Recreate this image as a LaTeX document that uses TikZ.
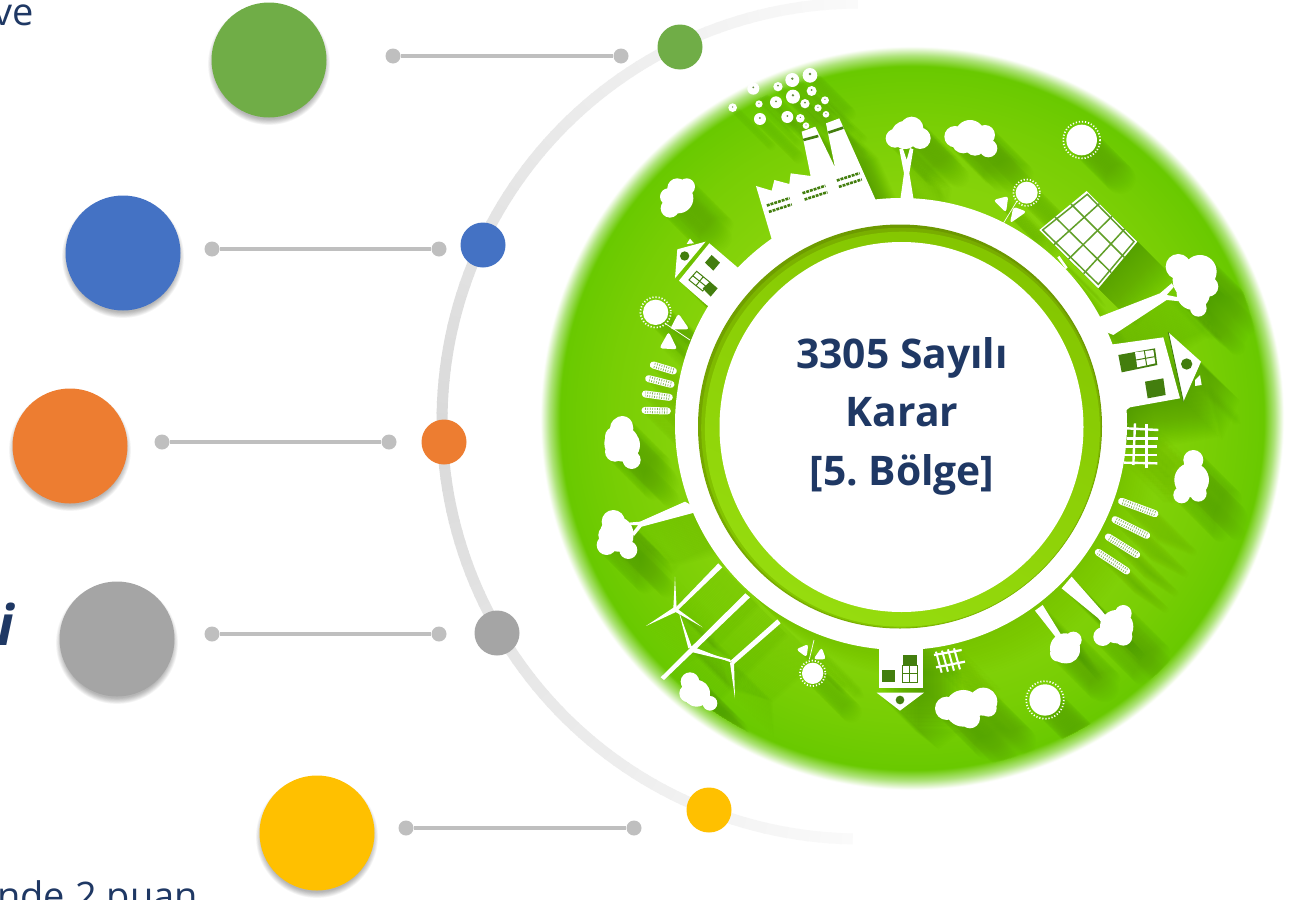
\documentclass[tikz,border=0pt]{standalone}
\usepackage{fontspec}
\setmainfont{Open Sans}
\definecolor{navy}{HTML}{1F3864}
\definecolor{cgreen}{HTML}{70AD47}
\definecolor{cblue}{HTML}{4472C4}
\definecolor{corange}{HTML}{ED7D31}
\definecolor{cgrey}{HTML}{A5A5A5}
\definecolor{cyellow}{HTML}{FFC000}
\definecolor{linegrey}{HTML}{BFBFBF}
\definecolor{arcg}{HTML}{D9D9D9}
\definecolor{shg}{HTML}{2A7000}
\definecolor{dk}{HTML}{4F9410}
\definecolor{gA}{HTML}{8CD60A}
\definecolor{gB}{HTML}{86D30A}
\definecolor{gC}{HTML}{78CE04}
\definecolor{gD}{HTML}{69C900}
\definecolor{gE}{HTML}{AEE37A}
\definecolor{ringA}{HTML}{6C9800}
\definecolor{ringB}{HTML}{78AC00}
\definecolor{ringC}{HTML}{84C600}
\definecolor{ringD}{HTML}{96DC0E}
\pgfdeclareradialshading{greendisc}{\pgfpoint{0bp}{0bp}}{color(0bp)=(gA); color(15.15bp)=(gB); color(19.75bp)=(gC); color(23.15bp)=(gD); color(23.85bp)=(gE); color(24.45bp)=(white); color(50bp)=(white)}
\tikzset{
  bigdot/.style={circle,draw=none,minimum size=115pt,inner sep=0pt},
  smalldot/.style={circle,draw=none,minimum size=45pt,inner sep=0pt},
  enddot/.style={circle,draw=none,fill=linegrey,minimum size=15pt,inner sep=0pt},
  linkline/.style={draw=linegrey,line width=3.5pt},
  titletext/.style={text=navy,font=\fontsize{40.8}{58.5}\selectfont\bfseries,align=center,inner sep=0pt},
  edgetext/.style={text=navy,font=\fontsize{38}{40}\selectfont,inner sep=0pt},
}
% icon passes
\def\passshadow{%
  \def\Sh##1{\foreach\dd in {4,8,...,116}{\fill[shg,opacity=.014,shift={(\dd,\dd)}] ##1;}}%
  \def\Sl##1##2{\foreach\dd in {4,8,...,116}{\draw[shg,opacity=.01,line width=##1,shift={(\dd,\dd)}] ##2;}}%
}
\def\passwhite{%
  \def\Sh##1{\fill[white] ##1;}%
  \def\Sl##1##2{\draw[white,line width=##1] ##2;}%
}
\def\Cl#1{\Sh{\foreach \xx/\yy/\rr in {#1}{(\xx,\yy) circle[radius=\rr]}}}
\newcommand\zw[3]{\begin{scope}[shift={(#1,#2)},x=.3333pt,y=-.3333pt]#3\end{scope}}
\newif\ifdetail
\def\Sun#1#2#3{\Cl{#1/#2/#3}\ifdetail\draw[white,line width=1.7pt,dash pattern=on 1.2pt off 1.9pt] (#1,#2) circle[radius=#3*1.2];\fi}
\def\Ear#1#2#3#4{\Sl{7pt,line cap=round}{(#1,#2)--(#3,#4)}\ifdetail\draw[dk!70!white,line width=5.5pt,dash pattern=on .7pt off 1.7pt] (#1,#2)--(#3,#4);\draw[white,line width=1pt] (#1,#2)--(#3,#4);\fi}
\def\Win#1#2#3{\begin{scope}[shift={(#1,#2)},rotate=#3]\draw[dk!85!black,line width=2.6pt,dash pattern=on 2.9pt off 1pt] (-36,-10)--(36,-10);\draw[dk!85!black,line width=2.6pt,dash pattern=on 2.9pt off 1pt] (-36,10)--(36,10);\end{scope}}
\def\Icons{%
\zw{540}{40}{%
  \Cl{810/106/22,757/120/21,640/146/18,714/140/14,759/170/21,815/153/15,855/181/12,708/187/18,795/191/14,657/192/11,578/203/13,834/204/11,858/223/10,742/231/18,781/235/13,660/237/18,798/257/10}%
  \Sh{(695,597)--(648,438)--(695,452)--(703,420)--(748,432)--(752,400)--(812,408)--(785,275)--(826,260)--(885,382)--(858,250)--(898,235)--(1008,482)--(1050,560)--(740,640)--cycle}%
  \Cl{390/505/28,385/470/25,412/445/30,440/440/25,420/482/35,415/475/45}%
  \Sh{(405,715)--(412,628)--(497,605)--cycle}%
  \Sh{(508,610)--(590,680)--(640,720)--(540,820)--(500,795)--(417,722)--cycle}%
  \Sh{(440,612)--(450,596)--(462,610)--cycle}%
}%
\zw{900}{60}{%
  \Cl{35/205/35,60/235/32,-15/235/28,15/225/42}%
  \Sh{(0,425)--(12,340)--(-2,268)--(8,264)--(20,300)--(30,264)--(40,268)--(28,340)--(42,425)--cycle}%
  \Cl{165/230/32,210/225/45,255/225/30,265/265/27,225/255/32,190/245/35}%
  \Sun{545}{240}{46}%
  \Sun{380}{398}{33}%
  \Sh{[rounded corners=3pt](280,420)--(325,408)--(318,458)--cycle}%
  \Sh{[rounded corners=3pt](330,490)--(380,455)--(340,440)--cycle}%
  \Sl{.7pt}{(350,425)--(310,490)}%
  \Sh{(560,393)--(712,545)--(595,685)--(418,510)--cycle}%
  \Sl{2.6pt}{(500,625)--(475,590)}%
  \Cl{835/620/38,900/635/50,880/700/50,895/745/25,925/680/30,880/660/62}%
  \Sh{(600,770)--(780,700)--(815,670)--(822,680)--(800,705)--(850,715)--(850,725)--(800,720)--(640,825)--(580,800)--cycle}%
}%
\zw{1100}{320}{%
  \Sh{(25,75)--(190,52)--(240,235)--(90,262)--(40,300)--(-40,280)--(-30,60)--cycle}%
  \Sh{(205,37)--(303,125)--(250,245)--cycle}%
  \Sh{(285,180)--(300,165)--(305,195)--(285,198)--cycle}%
}%
\zw{590}{280}{%
  \Sun{197}{97}{38}%
  \Sh{[rounded corners=3pt](265,100)--(298,148)--(240,148)--cycle}%
  \Sh{[rounded corners=3pt](236,155)--(262,208)--(208,205)--cycle}%
  \Sl{.7pt}{(225,130)--(300,180)}%
  \Ear{250}{273}{190}{255}%
  \Ear{243}{313}{176}{296}%
  \Ear{238}{352}{166}{342}%
  \Ear{232}{393}{165}{391}%
  \Cl{97/440/32,75/470/30,100/495/50,125/540/27,75/515/30,95/490/52,95/445/35}%
}%
\zw{560}{480}{%
  \Cl{160/125/35,145/165/30,175/170/45,205/210/27,140/195/30,170/160/50}%
  \Sh{(375,65)--(240,125)--(205,128)--(205,135)--(235,135)--(215,160)--(222,168)--(245,140)--(395,100)--(420,90)--cycle}%
  \Sh{(475,250)--(487,262)--(352,392)--(345,385)--cycle}%
  \Sh{(350,385)--(345,290)--(340,385)--cycle}%
  \Sh{(345,380)--(258,438)--(350,395)--cycle}%
  \Sh{(350,385)--(428,442)--(345,395)--cycle}%
  \Sh{(556,340)--(570,352)--(312,600)--(302,592)--cycle}%
  \Sh{(385,505)--(355,390)--(395,500)--cycle}%
  \Sh{(390,497)--(515,545)--(390,515)--cycle}%
  \Sh{(652,418)--(662,430)--(522,552)--(512,542)--cycle}%
  \Sh{(510,548)--(525,655)--(522,545)--cycle}%
  \Sh{(515,548)--(440,520)--(510,538)--cycle}%
  \Cl{390/605/28,385/640/27,420/650/26,450/670/22,410/640/40}%
}%
\zw{780}{620}{%
  \Sh{[rounded corners=3pt](48,88)--(85,72)--(80,112)--cycle}%
  \Sh{[rounded corners=3pt](100,118)--(125,82)--(138,118)--cycle}%
  \Sl{.7pt}{(88,118)--(102,60)}%
  \Sun{98}{160}{32}%
  \Sh{(298,40)--(430,40)--(430,205)--(298,205)--cycle}%
  \Sh{(290,218)--(432,218)--(360,272)--cycle}%
  \Sl{2.2pt}{(462,105)--(545,90)}%
  \Sl{2.2pt}{(468,142)--(555,125)}%
  \Sl{2pt}{(468,95)--(485,158)}%
  \Sl{2pt}{(486,92)--(504,155)}%
  \Sl{2pt}{(504,88)--(522,152)}%
  \Sl{2pt}{(522,85)--(540,148)}%
}%
\zw{920}{400}{%
  \Cl{80/925/35,130/925/55,190/905/42,150/955/30,205/925/25}%
  \Sun{375}{900}{47}%
  \Cl{440/750/40,460/720/25,415/760/25,435/745/45}%
  \Sh{(345,632)--(410,715)--(420,728)--(432,720)--(422,702)--(368,615)--cycle}%
  \Cl{590/680/50,610/640/25,548/710/28,610/710/27}%
  \Sh{(425,565)--(535,655)--(545,668)--(560,650)--(545,632)--(455,530)--cycle}%
  \Ear{705}{341}{605}{304}%
  \Ear{680}{406}{585}{359}%
  \Ear{650}{464}{565}{411}%
  \Ear{620}{513}{535}{457}%
  \Cl{820/180/30,815/240/52,785/285/25,835/280/25}%
  \Sl{2.4pt}{(620,85)--(715,90)}%
  \Sl{2.4pt}{(620,115)--(715,115)}%
  \Sl{2.4pt}{(618,140)--(712,140)}%
  \Sl{2.4pt}{(615,165)--(712,165)}%
  \Sl{2.4pt}{(612,188)--(712,190)}%
  \Sl{2.4pt}{(645,70)--(640,195)}%
  \Sl{2.4pt}{(680,72)--(680,205)}%
}%
}
\def\Details{%
\zw{540}{40}{%
  \foreach \xx/\yy/\rr in {810/102/4,757/116/4,640/142/3,714/137/3,759/166/4,815/150/3,855/178/2,708/184/3,795/188/3,657/190/2,578/201/2,834/202/2,858/221/2,742/228/3,781/232/2,660/234/3,798/255/2}{\fill[dk!55!gray] (\xx,\yy) circle[radius=\rr];}%
  \draw[dk!85!black,line width=2.6pt] (790,300)--(835,288);
  \draw[dk!85!black,line width=2.6pt] (865,278)--(910,263);
  \Win{718}{495}{18}\Win{825}{458}{18}\Win{928}{420}{18}%
  \fill[dk!85!black] (434,648) circle[radius=14];
  \fill[dk!85!black] (495,668)--(515,645)--(540,668)--(520,692)--cycle;
  \fill[dk!85!black] (488,745)--(510,725)--(533,745)--(512,770)--cycle;
  \draw[dk!85!black,line width=1pt] (447,720)--(470,694)--(510,727)--(488,753)--cycle (458,707)--(499,740) (468,737)--(490,710);
}%
\zw{900}{60}{%
  \begin{scope}[dk!90!white,line width=1.5pt]
  \draw (598,431)--(462,554) (636,469)--(506,597) (674,507)--(551,641);
  \draw (513,432)--(673,592) (465,471)--(634,638);
  \draw (562,403)--(702,545)--(595,673)--(428,510)--cycle;
  \end{scope}
}%
\zw{1100}{320}{%
  \fill[dk!85!black] (55,105)--(165,85)--(172,135)--(65,157)--cycle;
  \fill[white] (105,97)--(160,90)--(166,130)--(112,142)--cycle;
  \draw[dk!85!black,line width=1pt] (133,92)--(140,136) (108,120)--(164,110);
  \fill[dk!85!black] (135,185)--(190,175)--(197,225)--(143,235)--cycle;
  \fill[dk!85!black] (260,132) circle[radius=17];
  \draw[dk!85!black,line width=.9pt] (205,37)--(250,245);
}%
\zw{780}{620}{%
  \fill[dk!85!black] (307,149) rectangle (344,186);
  \fill[dk!85!black] (368,105) rectangle (412,137);
  \draw[dk!85!black,line width=1pt] (368,137) rectangle (412,187) (390,137)--(390,187) (368,160)--(412,160);
  \fill[dk!85!black] (360,240) circle[radius=13];
}%
}
\begin{document}
\begin{tikzpicture}[x=1pt,y=-1pt]
\useasboundingbox (0,0) rectangle (1310,900);
\clip (0,0) rectangle (1310,900);
\fill[white] (0,0) rectangle (1310,900);
% grey arc, fading to its ends
\foreach \a in {91,92.5,...,268}{%
  \pgfmathtruncatemacro\pp{100-abs(\a+.85-180)*0.97}%
  \draw[arcg!\pp!white,line width=11pt] (860,421)+(\a:418) -- +(\a+1.7:418);
}
% green disc
\shade[shading=greendisc] (912,418) circle[radius=380];
\begin{scope}
  \clip (912,418) circle[radius=354];
  % soft shadow of the band
  \foreach \dd in {2,4,...,30}{\fill[shg,opacity=.006] (901+\dd,424+\dd) circle[radius=226];}
  \passshadow\detailfalse\Icons
\end{scope}
\passwhite\detailtrue\Icons
\Details
% white band and inner ring
\fill[white] (901,424) circle[radius=226];
\shade[top color=ringA,bottom color=ringB,shading angle=-25] (900,426.5) circle[radius=202];
\shade[top color=ringB,bottom color=ringC,shading angle=-25] (901.2,427.8) circle[radius=200];
\shade[top color=ringC,bottom color=ringD,shading angle=-25] (902.4,429.2) circle[radius=197.5];
\fill[white] (901.5,427) ellipse[x radius=182,y radius=185];
\node[titletext] (title) at (902,416) {3305 Sayılı\\Karar\\{[5.\ Bölge]}};
% dots on arc and connectors
\foreach \nm/\col/\bx/\by/\sx/\sy/\lx/\rx/\ly in {
  a/cgreen/269/60/680/47/393/621/56,
  b/cblue/123/253/483/245/212/439/249,
  c/corange/70/446/444/442/162/389/442,
  d/cgrey/117/639/497/633/212/439/634,
  e/cyellow/317/833/709/810/406/634/828}{
  \foreach \k in {1,...,8}{\fill[black,opacity=.04] (\bx,\by+4) circle[radius=54.5+\k*.8];}
  \node[bigdot,fill=\col] (big\nm) at (\bx,\by) {};
  \node[smalldot,fill=\col] (small\nm) at (\sx,\sy) {};
  \node[enddot] (l\nm) at (\lx,\ly) {};
  \node[enddot] (r\nm) at (\rx,\ly) {};
  \draw[linkline] (l\nm) -- (r\nm);
}
% clipped text at the edges
\node[edgetext,anchor=base east] (ve) at (34,25) {ve};
\node[edgetext,anchor=base east] (puan) at (198,909) {nde 2 puan};
\node[edgetext,anchor=base east,font=\fontsize{56}{58}\selectfont\bfseries\itshape] (ii) at (14,645) {i};
\end{tikzpicture}
\end{document}
